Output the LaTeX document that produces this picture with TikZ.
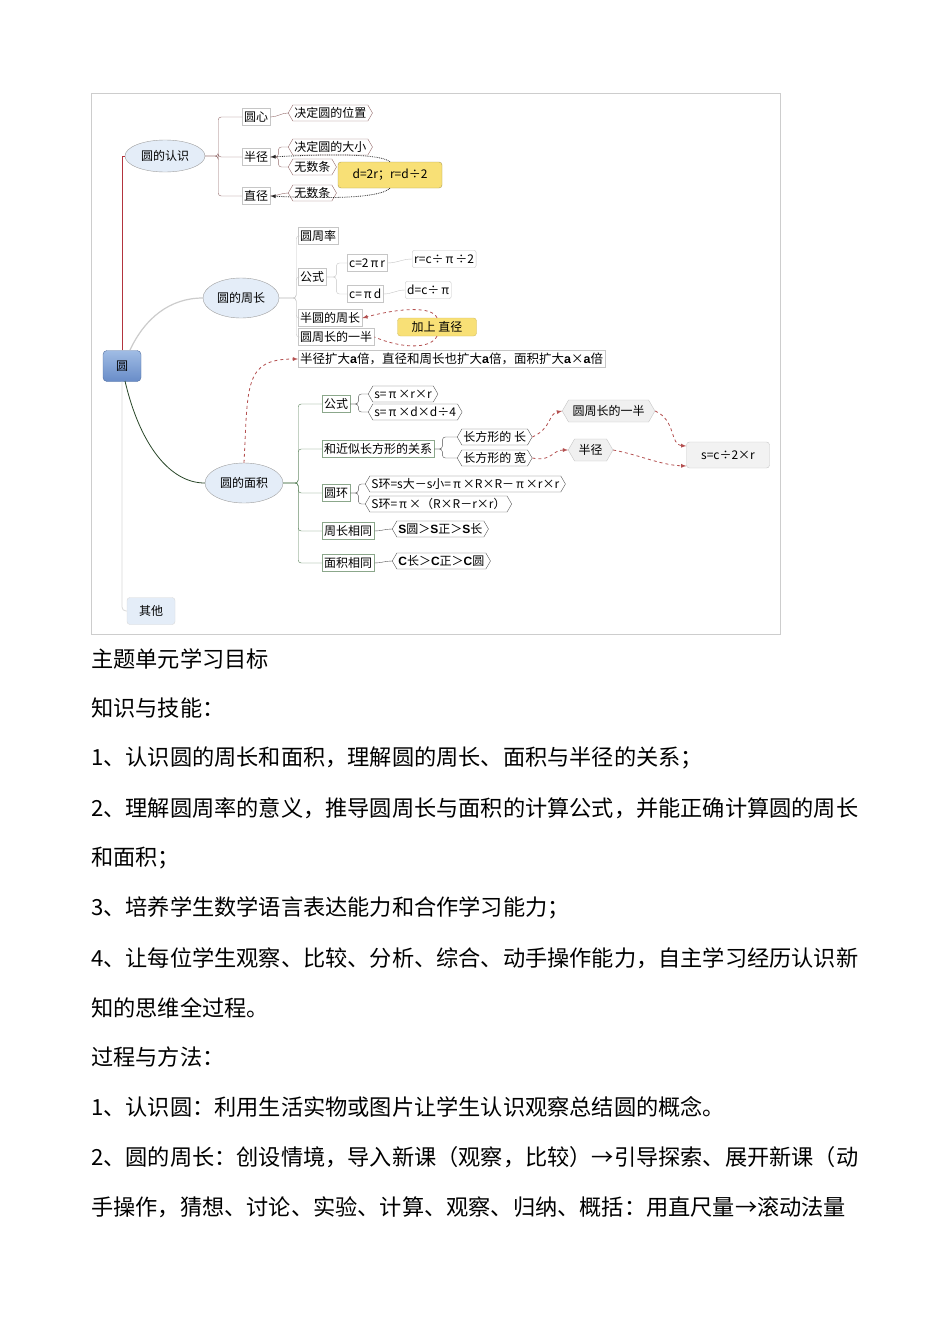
\documentclass[tikz,border=0pt]{standalone}
\usepackage{fontspec}
\setmainfont{Noto Sans CJK SC}
\newfontfamily\latsans{Liberation Sans}
\usetikzlibrary{positioning,shapes,arrows,calc,backgrounds}
\definecolor{FrameGray}{RGB}{205,205,205}
\definecolor{RootTop}{RGB}{160,188,228}
\definecolor{RootBot}{RGB}{104,140,200}
\definecolor{EllFill}{RGB}{228,237,248}
\definecolor{MapRed}{RGB}{178,52,62}
\definecolor{MapBrown}{RGB}{150,110,110}
\definecolor{MapGreen}{RGB}{40,70,40}
\definecolor{LeafGreen}{RGB}{90,130,90}
\definecolor{NoteYellow}{RGB}{248,224,118}
\definecolor{RelRed}{RGB}{180,80,80}
\tikzset{>=latex}
\newcommand{\mapfont}{\fontsize{12}{14}\selectfont}
\newcommand{\bodyfont}{\fontsize{22.2}{26}\selectfont}
\newcommand{\ba}{{\latsans\bfseries a}}
\newcommand{\bs}[1]{{\latsans\bfseries #1}}
\newcommand{\wa}{\makebox[1em]{→}}
\tikzset{rootnode/.style={rounded corners=4pt,draw=RootBot!80!black,top color=RootTop,bottom color=RootBot,minimum width=38pt,minimum height=31pt,inner sep=0pt,font=\mapfont}}
\tikzset{mainell/.style={ellipse,draw=gray!75,fill=EllFill,inner sep=0pt,font=\mapfont}}
\tikzset{subbox/.style={rectangle,draw=gray!45,fill=white,anchor=west,inner xsep=2pt,inner ysep=1pt,minimum height=17pt,font=\mapfont}}
\tikzset{leaf/.style={signal,signal to=west and east,signal pointer angle=120,draw=MapBrown,fill=white,anchor=west,inner xsep=1.5pt,inner ysep=1pt,minimum height=16pt,font=\mapfont}}
\tikzset{grayleaf/.style={leaf,draw=gray!45,fill=gray!12,minimum height=22pt,inner xsep=4pt}}
\tikzset{relnote/.style={rounded corners=3pt,fill=NoteYellow,draw=NoteYellow!70!black,inner sep=0pt,font=\mapfont}}
\tikzset{myedges/.style={thin,rounded corners=3pt}}
\tikzset{dotrel/.style={densely dotted,thick,gray!30!black}}
\tikzset{redrel/.style={dashed,thick,RelRed}}
\tikzset{bodyline/.style={anchor=west,inner sep=0pt,font=\bodyfont}}

\begin{document}
\begin{tikzpicture}[x=1pt,y=-1pt]
    \useasboundingbox[fill=white] (0,0) rectangle (950,1344);
    \draw[FrameGray] (91,93) rectangle (780,634);

    % main topics
    \node[rootnode] (yuan) at (122,366) {圆};
    \node[mainell,minimum width=80pt,minimum height=32pt] (rz) at (165,156) {圆的认识};
    \node[mainell,minimum width=76pt,minimum height=40pt] (zc) at (241,298) {圆的周长};
    \node[mainell,minimum width=78pt,minimum height=40pt] (mj) at (244,483) {圆的面积};
    \node[rounded corners=3pt,draw=gray!30,fill=EllFill,minimum width=48pt,minimum height=27pt,font=\mapfont] (qt) at (151,611) {其他};

    \draw[MapRed,thick] (yuan.north) -- (yuan.north |- rz.west) -- (rz.west);
    \draw[gray!40,very thick] (130,350) .. controls (145,318) and (170,298) .. (zc.west);
    \draw[MapGreen,thick] (125,381) .. controls (140,445) and (170,483) .. (mj.west);
    \draw[gray!30,thick,rounded corners=4pt] (yuan.south) |- (qt.west);

    % 圆的认识
    \node[subbox] (yx) at (242,117) {圆心};
    \node[subbox] (bj) at (242,157) {半径};
    \node[subbox] (zj) at (242,196) {直径};
    \node[leaf] (wz) at (288,113) {决定圆的位置};
    \node[leaf] (dx) at (288,147) {决定圆的大小};
    \node[leaf] (ws1) at (288,167) {无数条};
    \node[leaf] (ws2) at (288,193) {无数条};
    \node[relnote,minimum width=104pt,minimum height=26pt] (rel1) at (390,175) {d=2r；r=d÷2};
    \foreach \c in {yx,bj,zj}
        \draw[myedges,MapBrown] (rz.east) -- ++(13,0) |- (\c.west);
    \draw[MapBrown] (yx.east) to[out=0,in=180] (wz.west);
    \foreach \c in {dx,ws1}
        \draw[myedges,MapBrown] (bj.east) -- ++(8,0) |- (\c.west);
    \draw[MapBrown] (zj.east) to[out=0,in=180] (ws2.west);
    \draw[dotrel,->] (rel1.north) .. controls (378,152) and (310,155) .. (bj.east);
    \draw[dotrel,->] (rel1.south) .. controls (378,200) and (310,198) .. (zj.east);

    % 圆的周长
    \node[subbox] (zcl) at (298,236) {圆周率};
    \node[subbox] (gs1) at (298,277) {公式};
    \node[subbox] (byz) at (298,318) {半圆的周长};
    \node[subbox] (yb) at (298,337) {圆周长的一半};
    \node[subbox] (c1) at (347,263) {c=2\,π\,r};
    \node[subbox] (c2) at (347,294) {c=\,π\,d};
    \node[subbox,rounded corners=2pt] (r1) at (412,259) {r=c÷\,π\,÷2};
    \node[subbox,rounded corners=2pt] (d1) at (405,290) {d=c÷\,π};
    \node[relnote,draw=NoteYellow!85!black,minimum width=79pt,minimum height=18pt] (rel2) at (437,327) {加上\ 直径};
    \node[subbox,font=\fontsize{12.5}{14}\selectfont] (kd) at (298,359) {半径扩大\ba 倍，直径和周长也扩大\ba 倍，面积扩大\ba×\ba 倍};
    \foreach \c in {zcl,gs1,byz,yb}
        \draw[myedges,gray!45] (zc.east) -- ++(17,0) |- (\c.west);
    \foreach \c in {c1,c2}
        \draw[myedges,gray!45] (gs1.east) -- ++(10,0) |- (\c.west);
    \draw[gray!45] (c1.east) to[out=0,in=180] (r1.west);
    \draw[gray!45] (c2.east) to[out=0,in=180] (d1.west);
    \draw[redrel,->] (rel2.north) .. controls (432,306) and (400,308) .. (byz.east);
    \draw[redrel] (rel2.south) .. controls (430,350) and (400,348) .. (yb.east);
    \draw[redrel,->] (mj.north) .. controls (248,385) and (244,359) .. (kd.west);

    % 圆的面积
    \node[subbox,draw=LeafGreen!70] (gs2) at (322,404) {公式};
    \node[subbox,draw=LeafGreen!70] (jx) at (322,449) {和近似长方形的关系};
    \node[subbox,draw=LeafGreen!70] (hy) at (322,493) {圆环};
    \node[subbox,draw=LeafGreen!70] (zcxt) at (322,531) {周长相同};
    \node[subbox,draw=LeafGreen!70] (mjxt) at (322,563) {面积相同};
    \node[leaf,draw=gray!70!black] (s1) at (368,394) {s=\,π\,×r×r};
    \node[leaf,draw=gray!70!black] (s2) at (368,412) {s=\,π\,×d×d÷4};
    \node[leaf,draw=gray!70!black] (ch) at (457,437) {长方形的\ 长};
    \node[leaf,draw=gray!70!black] (ck) at (457,458) {长方形的\ 宽};
    \node[leaf,draw=gray!70!black] (h1) at (365,484) {S环=s大－s小=\,π\,×R×R－\,π\,×r×r};
    \node[leaf,draw=gray!70!black] (h2) at (365,504) {S环=\,π\,×（R×R－r×r）};
    \node[leaf,draw=gray!70!black] (bj1) at (392,529) {\bs{S}圆＞\bs{S}正＞\bs{S}长};
    \node[leaf,draw=gray!70!black] (bj2) at (392,561) {\bs{C}长＞\bs{C}正＞\bs{C}圆};
    \node[grayleaf] (yzb) at (562,411) {圆周长的一半};
    \node[grayleaf] (bjg) at (568,450) {半径};
    \node[rounded corners=3pt,draw=gray!45,fill=gray!10,minimum width=83pt,minimum height=26pt,font=\mapfont] (sres) at (728,455) {s=c÷2×r};
    \foreach \c in {gs2,jx,hy,zcxt,mjxt}
        \draw[myedges,LeafGreen] (mj.east) -- ++(15,0) |- (\c.west);
    \foreach \c/\p in {s1/gs2,s2/gs2,ch/jx,ck/jx,h1/hy,h2/hy}
        \draw[myedges,gray!60!black] (\p.east) -- ++(8,0) |- (\c.west);
    \draw[gray!60!black] (zcxt.east) to[out=0,in=180] (bj1.west);
    \draw[gray!60!black] (mjxt.east) to[out=0,in=180] (bj2.west);
    \draw[redrel,->] (ch.east) .. controls (552,428) and (548,414) .. (yzb.west);
    \draw[redrel,->] (ck.east) .. controls (552,462) and (552,450) .. (bjg.west);
    \draw[redrel,->] (yzb.east) .. controls (676,420) and (670,445) .. (sres.west |- 0,446);
    \draw[redrel,->] (bjg.east) .. controls (640,455) and (660,465) .. (sres.west |- 0,466);

    % 文字部分
    \node[bodyline] (t1) at (91,659) {主题单元学习目标};
    \node[bodyline] (t2) at (91,708) {知识与技能：};
    \node[bodyline] (t3) at (91,758) {1、认识圆的周长和面积，理解圆的周长、面积与半径的关系；};
    \node[bodyline] (t4) at (91,808) {2、理解圆周率的意义，推导圆周长与面积的计算公式，并能正确计算圆的周长};
    \node[bodyline] (t5) at (91,858) {和面积；};
    \node[bodyline] (t6) at (91,908) {3、培养学生数学语言表达能力和合作学习能力；};
    \node[bodyline] (t7) at (91,958) {4、让每位学生观察、比较、分析、综合、动手操作能力，自主学习经历认识新};
    \node[bodyline] (t8) at (91,1008) {知的思维全过程。};
    \node[bodyline] (t9) at (91,1057) {过程与方法：};
    \node[bodyline] (t10) at (91,1107) {1、认识圆：利用生活实物或图片让学生认识观察总结圆的概念。};
    \node[bodyline] (t11) at (91,1157) {2、圆的周长：创设情境，导入新课（观察，比较）→引导探索、展开新课（动};
    \node[bodyline] (t12) at (91,1207) {手操作，猜想、讨论、实验、计算、观察、归纳、概括：用直尺量\wa 滚动法量};
\end{tikzpicture}
\end{document}
